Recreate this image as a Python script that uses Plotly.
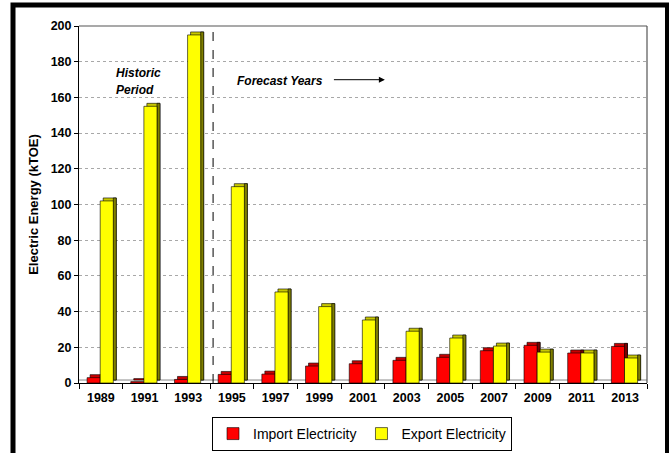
import plotly.graph_objects as go

# ---- data -------------------------------------------------------------
years = ["1989", "1991", "1993", "1995", "1997", "1999", "2001",
         "2003", "2005", "2007", "2009", "2011", "2013"]
import_electricity = [3.0, 0.8, 2.0, 4.8, 5.0, 9.5, 10.8, 12.7, 14.4, 18.1, 21.1, 16.8, 20.5]
export_electricity = [102, 155, 195, 110, 51, 42.8, 35.3, 29.0, 25.2, 20.7, 17.3, 16.8, 14.0]
y_ticks = [0, 20, 40, 60, 80, 100, 120, 140, 160, 180, 200]

# ---- geometry ---------------------------------------------------------
W, H = 669, 453
L, R, T, B = 79, 22, 26, 68
plot_w = W - L - R
plot_h = H - T - B
y_max = 200
depth_px = 3                                  # pseudo-3D depth of the columns
dx = depth_px * len(years) / plot_w           # depth in category units
dy = depth_px * y_max / plot_h                # depth in value units
bar_w = 0.30

FONT = "Arial, Liberation Sans, sans-serif"

series = [
    # name, values, offset, front, top face, side face
    ("Import Electricity", import_electricity, -0.315, "#FF0000", "#C80000", "#7A0000"),
    ("Export Electricity", export_electricity, -0.015, "#FFFF00", "#C8C800", "#7F7F00"),
]

fig = go.Figure()
outline = dict(color="#000000", width=0.6)
for name, vals, off, front, top, side in series:
    # top face (shifted back/up)
    fig.add_trace(go.Bar(x=years, y=vals, base=dy, offset=off + dx, width=bar_w,
                         marker=dict(color=top, line=outline),
                         showlegend=False, hoverinfo="skip"))
    # side face
    fig.add_trace(go.Bar(x=years, y=vals, base=dy, offset=off + bar_w, width=dx,
                         marker=dict(color=side, line=outline),
                         showlegend=False, hoverinfo="skip"))
    # front face
    fig.add_trace(go.Bar(x=years, y=vals, offset=off, width=bar_w, name=name,
                         marker=dict(color=front, line=outline)))

fig.update_layout(
    width=W, height=H,
    margin=dict(l=L, r=R, t=T, b=B),
    barmode="overlay",
    paper_bgcolor="#FFFFFF",
    plot_bgcolor="#FFFFFF",
    font=dict(family=FONT, color="#000000"),
    legend=dict(
        orientation="h",
        xref="container", yref="container",
        x=362 / W, y=1 - 417 / H, xanchor="center", yanchor="top",
        bgcolor="#FFFFFF", bordercolor="#000000", borderwidth=1,
        font=dict(family=FONT, size=14, color="#000000"),
        itemwidth=30,
    ),
    xaxis=dict(
        type="category",
        tickson="boundaries",
        ticks="outside", ticklen=5, tickcolor="#000000",
        showline=True, linecolor="#000000", linewidth=1,
        showgrid=False,
        tickfont=dict(family=FONT, size=12.5, weight="bold", color="#000000"),
        ticklabelstandoff=3,
        range=[-0.5, len(years) - 0.5],
    ),
    yaxis=dict(
        range=[0, y_max],
        tickvals=y_ticks,
        ticks="outside", ticklen=4, tickcolor="#000000",
        showline=True, linecolor="#000000", linewidth=1,
        showgrid=True, gridcolor="#A8A8A8", gridwidth=1, griddash="dot",
        zeroline=False,
        tickfont=dict(family=FONT, size=12.5, weight="bold", color="#000000"),
        title=dict(text="Electric Energy (kTOE)", standoff=9,
                   font=dict(family=FONT, size=13, weight="bold", color="#000000")),
    ),
)

# back-wall frame (top and right edges)
fig.add_shape(type="line", xref="paper", yref="paper", x0=0, x1=1, y0=1, y1=1,
              line=dict(color="#555555", width=1.2))
fig.add_shape(type="line", xref="paper", yref="paper", x0=1, x1=1, y0=0, y1=1,
              line=dict(color="#555555", width=1.2))
# floor edge
fig.add_shape(type="line", xref="paper", yref="y", x0=0, x1=1, y0=dy, y1=dy,
              line=dict(color="#888888", width=1), layer="below")

# historic / forecast divider
fig.add_shape(type="line", xref="x", yref="paper", x0=2.5 + dx, x1=2.5 + dx, y0=0, y1=1,
              line=dict(color="#000000", width=1, dash="dash"))

note_font = dict(family=FONT, size=12, weight="bold", style="italic", color="#000000")
fig.add_annotation(x=0.30, y=(H - B - 73) * y_max / plot_h, xref="x", yref="y",
                   text="Historic", showarrow=False, xanchor="left", yanchor="middle",
                   font=note_font)
fig.add_annotation(x=0.31, y=(H - B - 90) * y_max / plot_h, xref="x", yref="y",
                   text="Period", showarrow=False, xanchor="left", yanchor="middle",
                   font=note_font)
fig.add_annotation(x=3.07, y=(H - B - 81) * y_max / plot_h, xref="x", yref="y",
                   text="Forecast Years", showarrow=False, xanchor="left", yanchor="middle",
                   font=note_font)
arrow_y = (H - B - 80) * y_max / plot_h
fig.add_annotation(x=6.5, y=arrow_y, ax=5.3, ay=arrow_y, xref="x", yref="y",
                   axref="x", ayref="y", text="", showarrow=True,
                   arrowhead=2, arrowsize=1.2, arrowwidth=1, arrowcolor="#000000")

# outer black frame
def px_x(px):
    return (px - L) / plot_w


def px_y(py):
    return (H - B - py) / plot_h


fig.add_shape(type="rect", xref="paper", yref="paper",
              x0=px_x(13), x1=px_x(667.5), y0=px_y(462), y1=px_y(5),
              line=dict(color="#000000", width=5), fillcolor="rgba(0,0,0,0)")

fig.write_html("out.html")
